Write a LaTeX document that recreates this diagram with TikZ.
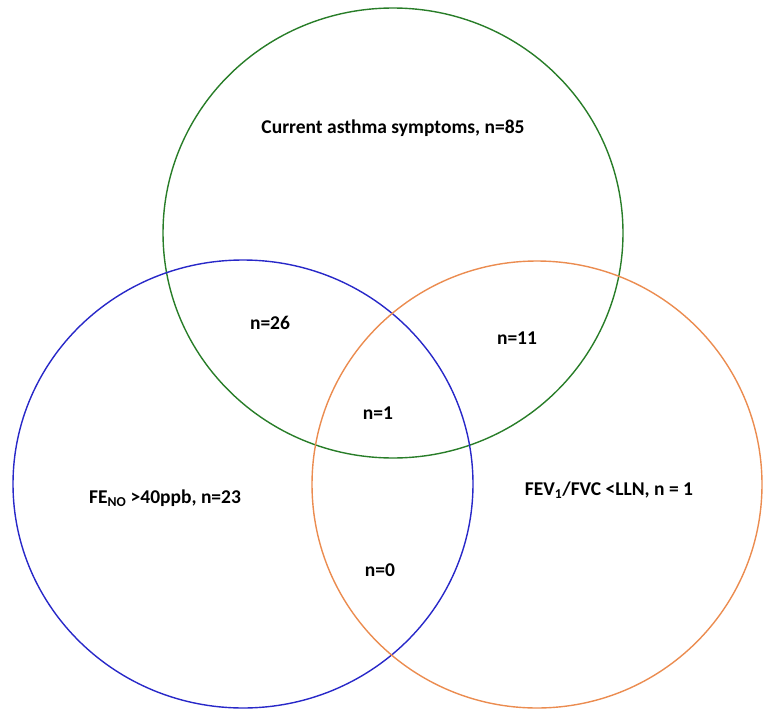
\documentclass[tikz,border=0pt]{standalone}
\usepackage{fontspec}
\setmainfont{Carlito}
\definecolor{vgreen}{RGB}{40,125,40}
\definecolor{vblue}{RGB}{40,40,200}
\definecolor{vorange}{RGB}{235,140,80}
\begin{document}
\begin{tikzpicture}[x=1pt,y=-1pt,
  ring/.style={line width=1.4pt},
  lab/.style={font=\bfseries\fontsize{19.5}{22}\selectfont, inner sep=0pt}]
\useasboundingbox (0,0) rectangle (763,712);
\draw[ring, vgreen] (393,233) ellipse [x radius=230, y radius=225];
\draw[ring, vblue] (243,484) ellipse [x radius=230, y radius=224];
\draw[ring, vorange] (537,484.5) ellipse [x radius=225, y radius=223.5];
\node[lab] (t1) at (393,128) {Current asthma symptoms, n=85};
\node[lab] (t2) at (270,323) {n=26};
\node[lab] (t3) at (517,338) {n=11};
\node[lab] (t4) at (378,413) {n=1};
\node[lab] (t5) at (165,498) {FE\textsubscript{NO} {>}40ppb, n=23};
\node[lab] (t6) at (609,490) {FEV\textsubscript{1}/FVC {<}LLN, n = 1};
\node[lab] (t7) at (380,570) {n=0};
\end{tikzpicture}
\end{document}
